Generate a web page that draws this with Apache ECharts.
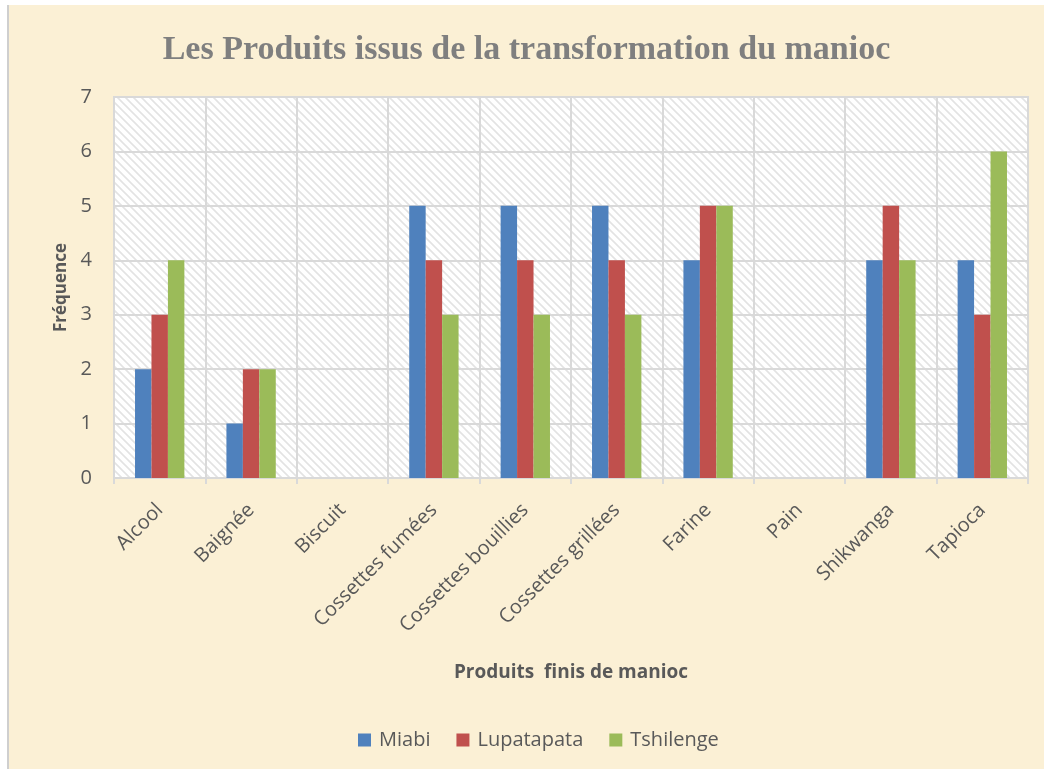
<!DOCTYPE html>
<html>
<head>
<meta charset="utf-8">
<script src="https://cdn.jsdelivr.net/npm/echarts@6/dist/echarts.min.js"></script>
<style>
html,body{margin:0;padding:0;background:#ffffff;width:1044px;height:769px;overflow:hidden;}
#frame{position:absolute;left:7px;top:5px;width:1035px;height:764px;border-left:2px solid #cfcfcf;background:#fbf0d5;}
#chart{position:absolute;left:0;top:0;width:1035px;height:764px;}
</style>
</head>
<body>
<div id="frame"><div id="chart"></div></div>
<script>
const categories = ['Alcool','Baignée','Biscuit','Cossettes fumées','Cossettes bouillies','Cossettes grillées','Farine','Pain','Shikwanga','Tapioca'];
const miabi = [2,1,0,5,5,5,4,0,4,4];
const lupatapata = [3,2,0,4,4,4,5,0,5,3];
const tshilenge = [4,2,0,3,3,3,5,0,4,6];
const yTicks = [0,1,2,3,4,5,6,7];

// hatch pattern for plot area
const pc = document.createElement('canvas');
pc.width = 8; pc.height = 8;
const g = pc.getContext('2d');
g.fillStyle = '#ffffff'; g.fillRect(0,0,8,8);
g.strokeStyle = '#e3e3e3'; g.lineWidth = 1.6;
g.beginPath();
g.moveTo(-2,-2); g.lineTo(10,10);
g.moveTo(-6,2); g.lineTo(2,10);
g.moveTo(6,-2); g.lineTo(10,2);
g.stroke();

const chart = echarts.init(document.getElementById('chart'), null, {renderer:'canvas'});
const labelFont = '"Open Sans", sans-serif';
chart.setOption({
  backgroundColor: 'transparent',
  animation: false,
  title: {
    text: 'Les Produits issus de la transformation du manioc',
    left: 'center', top: 23,
    textStyle: {fontFamily: '"Liberation Serif", serif', fontWeight: 'bold', fontSize: 34, color: '#7f7f7f'}
  },
  legend: {
    bottom: 14, left: 344,
    itemWidth: 13, itemHeight: 13, itemGap: 26,
    icon: 'rect',
    textStyle: {fontFamily: labelFont, fontSize: 20, color: '#595959', padding: [0,0,0,3]},
    data: ['Miabi','Lupatapata','Tshilenge']
  },
  grid: {
    left: 105, right: 16, top: 92, bottom: 291,
    show: true, borderColor: '#d9d9d9', borderWidth: 2,
    backgroundColor: {image: pc, repeat: 'repeat'}
  },
  xAxis: {
    type: 'category', data: categories,
    name: 'Produits  finis de manioc', nameLocation: 'middle', nameGap: 185,
    nameTextStyle: {fontFamily: labelFont, fontWeight: 'bold', fontSize: 19, color: '#595959'},
    axisLine: {show: true, lineStyle: {color: '#d9d9d9', width: 2}},
    axisTick: {show: true, length: 6, lineStyle: {color: '#d9d9d9', width: 2}},
    splitLine: {show: true, lineStyle: {color: '#d9d9d9', width: 2}},
    axisLabel: {rotate: 45, interval: 0, margin: 29, fontFamily: labelFont, fontSize: 20, color: '#595959'}
  },
  yAxis: {
    type: 'value', min: 0, max: 7, interval: 1,
    name: 'Fréquence', nameLocation: 'middle', nameGap: 44,
    nameTextStyle: {fontFamily: labelFont, fontWeight: 'bold', fontSize: 17, color: '#595959'},
    axisLine: {show: true, lineStyle: {color: '#d9d9d9', width: 2}},
    axisTick: {show: false},
    splitLine: {show: true, lineStyle: {color: '#d9d9d9', width: 2}},
    axisLabel: {margin: 22, fontFamily: labelFont, fontSize: 20, color: '#595959',
      formatter: v => yTicks.includes(v) ? String(v) : ''}
  },
  series: [
    {name: 'Miabi', type: 'bar', data: miabi, itemStyle: {color: '#4f81bd'}, barGap: '0%', barCategoryGap: '46%'},
    {name: 'Lupatapata', type: 'bar', data: lupatapata, itemStyle: {color: '#c0504d'}, barGap: '0%', barCategoryGap: '46%'},
    {name: 'Tshilenge', type: 'bar', data: tshilenge, itemStyle: {color: '#9bbb59'}, barGap: '0%', barCategoryGap: '46%'}
  ]
});
</script>
</body>
</html>
